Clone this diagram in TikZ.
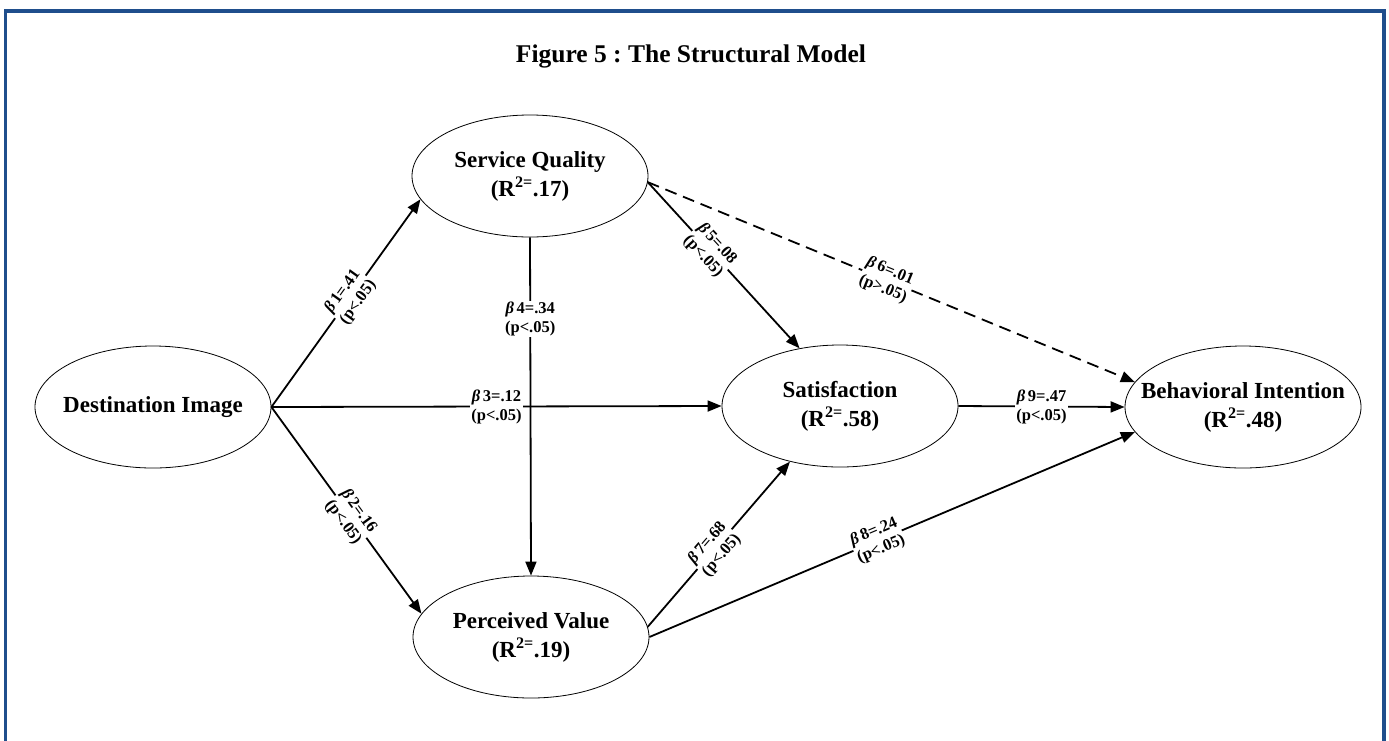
\documentclass[tikz,border=0pt]{standalone}
\usepackage{fontspec}
\setmainfont{Liberation Serif}
\usetikzlibrary{arrows.meta,shapes.geometric}
\definecolor{frameblue}{RGB}{31,78,140}
\frenchspacing
\begin{document}
\begin{tikzpicture}[x=1pt,y=-1pt,
latent/.style={ellipse,draw,line width=0.8pt,minimum width=236pt,minimum height=122pt,
  inner xsep=-30pt,inner ysep=0pt,align=center,font=\bfseries\fontsize{23}{29}\selectfont},
arr/.style={line width=1.8pt,-{Triangle[length=14pt,width=11pt]}},
coefh/.style={fill=white,inner sep=1pt,align=center,
  font=\bfseries\fontsize{16.5}{19}\selectfont},
coef/.style={coefh,sloped}]
\useasboundingbox (0,0) rectangle (1389,740);
\draw[frameblue,line width=3.3pt] (5.5,11) rectangle (1384,760);
\node[font=\bfseries\fontsize{25.5}{30}\selectfont] (title) at (691,56) {Figure 5 : The Structural Model};
% constructs
\node[latent] (DI) at (153,407) {Destination Image};
\node[latent] (SQ) at (530,176) {Service Quality\\(R\textsuperscript{2=}.17)};
\node[latent] (PV) at (531,637) {Perceived Value\\(R\textsuperscript{2=}.19)};
\node[latent] (SA) at (840,406) {Satisfaction\\(R\textsuperscript{2=}.58)};
\node[latent] (BI) at (1243,407) {Behavioral Intention\\(R\textsuperscript{2=}.48)};
% paths
\draw[arr] (DI.east) -- node[coef,pos=.53] {{\itshape β}\,1=.41\\(p<.05)} (SQ.192);
\draw[arr] (DI.east) -- node[coef,pos=.53] {{\itshape β}\,2=.16\\(p<.05)} (PV.168);
\draw[arr] (DI.east) -- node[coefh,pos=.5] {{\itshape β}\,3=.12\\(p<.05)} (SA.west);
\draw[arr] (SQ.south) -- node[coefh,pos=.24] {{\itshape β}\,4=.34\\(p<.05)} (PV.north);
\draw[arr] (SQ.-3) -- node[coef,pos=.41] {{\itshape β}\,5=.08\\(p<.05)} (SA.125);
\draw[arr,dash pattern=on 12pt off 7pt] (SQ.-3) -- node[coef,pos=.49] {{\itshape β}\,6=.01\\(p>.05)} (BI.167);
\draw[arr] (PV.5) -- node[coef,pos=.47] {{\itshape β}\,7=.68\\(p<.05)} (SA.228);
\draw[arr] (PV.east) -- node[coef,pos=.47] {{\itshape β}\,8=.24\\(p<.05)} (BI.193);
\draw[arr] (SA.east) -- node[coefh,pos=.5] {{\itshape β}\,9=.47\\(p<.05)} (BI.west);
\end{tikzpicture}
\end{document}
